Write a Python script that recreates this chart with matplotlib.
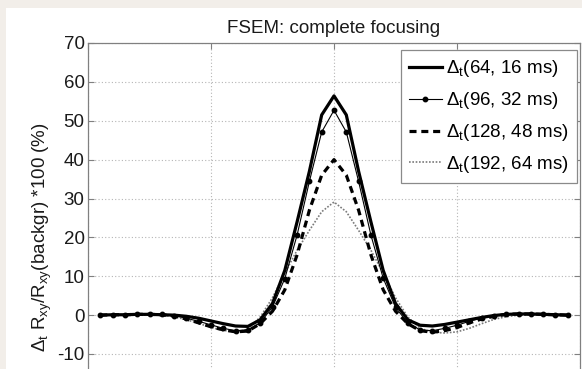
import numpy as np
import matplotlib
matplotlib.use("Agg")
import matplotlib.pyplot as plt
from matplotlib.patches import Rectangle
from matplotlib.ticker import FuncFormatter

plt.rcParams['font.family'] = ['Liberation Sans', 'DejaVu Sans']
plt.rcParams['mathtext.fontset'] = 'custom'
plt.rcParams['mathtext.rm'] = 'Liberation Sans'
plt.rcParams['mathtext.it'] = 'Liberation Sans:italic'
plt.rcParams['mathtext.bf'] = 'Liberation Sans:bold'

# sample positions across the profile
position = np.arange(1, 40)

# relative change (%) for each (matrix, echo time) setting
d64 = [0.0, 0.1, 0.1, 0.2, 0.2, 0.1, 0.0, -0.3, -0.8, -1.5, -2.2, -2.8, -2.9, -1.2,
       3.0, 11.5, 24.0, 37.0, 51.5, 56.4, 51.5, 37.0, 24.0, 11.5, 3.0,
       -1.2, -2.6, -2.8, -2.4, -1.8, -1.2, -0.6, -0.1, 0.2, 0.3, 0.3, 0.2, 0.1, 0.0]
d96 = [0.0, 0.1, 0.1, 0.3, 0.3, 0.2, -0.1, -0.8, -1.6, -2.5, -3.4, -4.0, -3.8, -2.0,
       2.1, 9.4, 20.6, 34.4, 47.1, 52.7, 47.1, 34.4, 20.6, 9.5, 2.0,
       -2.0, -3.8, -4.0, -3.4, -2.6, -1.6, -0.7, -0.1, 0.2, 0.3, 0.3, 0.2, 0.1, 0.0]
d128 = [0.0, 0.1, 0.1, 0.2, 0.2, 0.1, -0.2, -1.0, -2.0, -3.0, -3.8, -4.3, -4.1, -2.2,
        1.0, 6.5, 15.5, 27.0, 36.0, 40.0, 36.0, 27.0, 15.5, 6.5, 1.0,
        -2.2, -4.0, -4.4, -4.0, -3.2, -2.0, -1.0, -0.3, 0.2, 0.3, 0.3, 0.2, 0.1, 0.0]
d192 = [0.0, 0.0, 0.0, 0.0, 0.0, 0.0, -0.4, -1.2, -2.1, -3.2, -3.9, -4.4, -3.6, -0.5,
        4.5, 10.8, 16.7, 21.8, 26.6, 29.1, 26.6, 21.8, 16.7, 10.8, 4.5,
        -0.5, -3.4, -4.4, -4.6, -4.3, -3.4, -2.2, -1.1, -0.4, 0.0, 0.1, 0.1, 0.0, 0.0]

labels = [r'$\Delta_{\rm t}$(64, 16 ms)', r'$\Delta_{\rm t}$(96, 32 ms)',
          r'$\Delta_{\rm t}$(128, 48 ms)', r'$\Delta_{\rm t}$(192, 64 ms)']

FS = 13.5
W, H = 582, 369
fig = plt.figure(figsize=(W / 100, H / 100), dpi=100, facecolor='#f2eee9')
fig.patches.append(Rectangle((6 / W, 0), 1, 1 - 8 / H, transform=fig.transFigure,
                             facecolor='white', edgecolor='none', zorder=-1))

top = 43
bottom = 431.75
ax = fig.add_axes([88 / W, 1 - bottom / H, (580 - 88) / W, (bottom - top) / H])

ax.plot(position, d192, color='#7a7a7a', lw=1.2, ls=(0, (1, 1)), label=labels[3], zorder=2)
ax.plot(position, d128, color='black', lw=2.3, ls=(0, (2.2, 1.5)), label=labels[2], zorder=3)
ax.plot(position, d64, color='black', lw=2.3, ls='-', label=labels[0], zorder=4)
ax.plot(position, d96, color='black', lw=0.8, ls='-', marker='o', ms=3.2,
        label=labels[1], zorder=5)

ax.set_xlim(0, 40)
ax.set_ylim(-30, 70)
ax.set_xticks([0, 10, 20, 30, 40])
ax.set_yticks(np.arange(-30, 71, 10))
ax.set_xticklabels([])
# the lowest labels fall below the visible frame
ax.yaxis.set_major_formatter(FuncFormatter(lambda v, p: '' if v < -15 else f'{v:g}'))
ax.grid(True, color='#b5b5b5', ls=(0, (1, 2)), lw=0.8)
for s in ax.spines.values():
    s.set_color('#808080')
    s.set_linewidth(0.9)
ax.tick_params(direction='in', length=4, width=0.8, color='#808080',
               top=True, right=True, labelsize=FS, pad=2.5, labelcolor='#1a1a1a')

ax.set_title('FSEM: complete focusing', fontsize=FS, pad=7, color='#1a1a1a')
ax.set_ylabel(r'$\Delta_{\rm t}$ R$_{\rm xy}$/R$_{\rm xy}$(backgr) *100 (%)',
              fontsize=FS, color='#1a1a1a', labelpad=2)

h, l = ax.get_legend_handles_labels()
order = [2, 3, 1, 0]
leg = ax.legend([h[i] for i in order], [l[i] for i in order], loc='upper right',
                bbox_to_anchor=(1.0 - 3 / 492, 1.0 - 7 / 388.75), fontsize=FS,
                frameon=True, fancybox=False, edgecolor='#8a8a8a', framealpha=1,
                handlelength=1.75, handletextpad=0.2, labelspacing=0.58,
                borderpad=0.45, borderaxespad=0)
leg.get_frame().set_linewidth(0.9)

fig.savefig('out.png', dpi=100, facecolor=fig.get_facecolor())
